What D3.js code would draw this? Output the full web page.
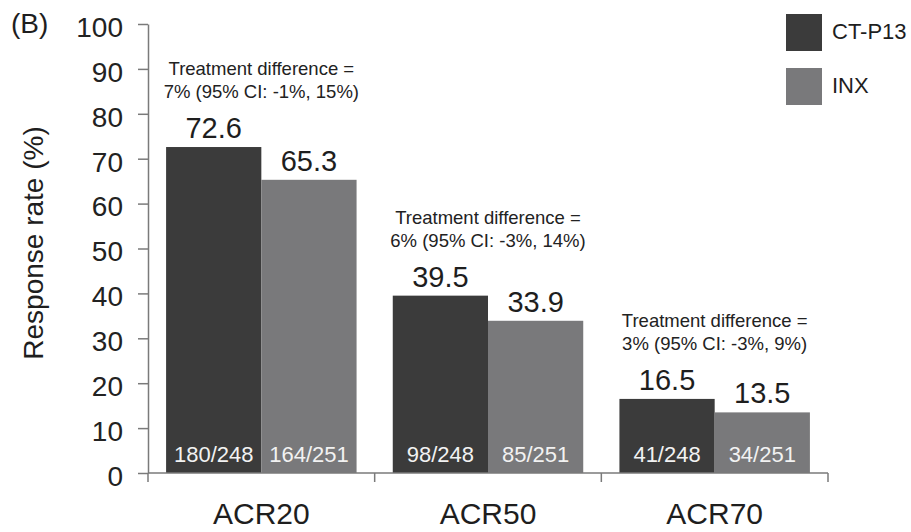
<!DOCTYPE html>
<html>
<head>
<meta charset="utf-8">
<script src="https://cdn.jsdelivr.net/npm/d3@7"></script>
<style>
    body { margin: 0; background: #fff; }
    svg { display: block; font-family: "Liberation Sans", Arial, Helvetica, sans-serif; }
    .y-axis path, .y-axis line { stroke: #7a7a7a; stroke-width: 1.5; }
    .y-axis text { fill: #222; font-size: 28px; }
</style>
</head>
<body>
<div id="chart"></div>
<script>
const categories = ['ACR20', 'ACR50', 'ACR70'];
const series = ['CT-P13', 'INX'];
const ctp13Values = [72.6, 39.5, 16.5];
const inxValues = [65.3, 33.9, 13.5];
const ctp13Counts = ['180/248', '98/248', '41/248'];
const inxCounts = ['164/251', '85/251', '34/251'];
const diffLine1 = ['Treatment difference =', 'Treatment difference =', 'Treatment difference ='];
const diffLine2 = ['7% (95% CI: -1%, 15%)', '6% (95% CI: -3%, 14%)', '3% (95% CI: -3%, 9%)'];
const yTicks = [0, 10, 20, 30, 40, 50, 60, 70, 80, 90, 100];

const colors = { 'CT-P13': '#3b3b3b', 'INX': '#79797b' };
const width = 911, height = 532;
const plot = { left: 148, right: 828, top: 24, bottom: 473 };

const svg = d3.select('#chart').append('svg')
    .attr('width', width)
    .attr('height', height);

const x0 = d3.scaleBand()
    .domain(categories)
    .range([plot.left, plot.right])
    .padding(0);

const x1 = d3.scaleBand()
    .domain(series)
    .range([0, x0.bandwidth()])
    .paddingInner(0)
    .paddingOuter(0.19);

const y = d3.scaleLinear()
    .domain([0, 100])
    .range([plot.bottom, plot.top]);

// rows per category, one entry per bar
const rows = categories.map((c, i) => ({
    cat: c,
    bars: [
        { key: 'CT-P13', value: ctp13Values[i], count: ctp13Counts[i] },
        { key: 'INX', value: inxValues[i], count: inxCounts[i] }
    ],
    note: [diffLine1[i], diffLine2[i]]
}));

// y axis
svg.append('g')
    .attr('class', 'y-axis')
    .attr('transform', `translate(${plot.left},0)`)
    .call(d3.axisLeft(y)
        .tickValues(yTicks)
        .tickSize(10)
        .tickSizeOuter(0)
        .tickPadding(15))
    .selectAll('text')
    .attr('dy', '0.44em');

// bars
const groups = svg.selectAll('.group')
    .data(rows)
    .enter().append('g')
    .attr('class', 'group')
    .attr('transform', d => `translate(${x0(d.cat)},0)`);

groups.selectAll('rect')
    .data(d => d.bars)
    .enter().append('rect')
    .attr('x', d => x1(d.key))
    .attr('y', d => y(d.value))
    .attr('width', x1.bandwidth())
    .attr('height', d => y(0) - y(d.value))
    .attr('fill', d => colors[d.key]);

// value labels above the bars
groups.selectAll('.value-label')
    .data(d => d.bars)
    .enter().append('text')
    .attr('class', 'value-label')
    .attr('x', d => x1(d.key) + x1.bandwidth() / 2)
    .attr('y', d => y(d.value) - 9)
    .attr('text-anchor', 'middle')
    .attr('font-size', 29)
    .attr('fill', '#1e1e1e')
    .text(d => d.value.toFixed(1));

// n/N inside the bars
groups.selectAll('.count-label')
    .data(d => d.bars)
    .enter().append('text')
    .attr('class', 'count-label')
    .attr('x', d => x1(d.key) + x1.bandwidth() / 2)
    .attr('y', y(0) - 11)
    .attr('text-anchor', 'middle')
    .attr('font-size', 22)
    .attr('fill', '#f2f2f2')
    .text(d => d.count);

// treatment difference notes, sit above the tallest bar label
groups.each(function(d) {
    const top = y(d3.max(d.bars, b => b.value)) - 9 - 40;
    const t = d3.select(this).append('text')
        .attr('text-anchor', 'middle')
        .attr('font-size', 18.5)
        .attr('fill', '#222');
    t.append('tspan')
        .attr('x', x0.bandwidth() / 2)
        .attr('y', top - 23)
        .text(d.note[0]);
    t.append('tspan')
        .attr('x', x0.bandwidth() / 2)
        .attr('y', top)
        .text(d.note[1]);
});

// x axis: baseline plus ticks at band edges
const xAxis = svg.append('g').attr('class', 'x-axis');
xAxis.append('line')
    .attr('x1', plot.left)
    .attr('x2', plot.right)
    .attr('y1', y(0))
    .attr('y2', y(0))
    .attr('stroke', '#7a7a7a')
    .attr('stroke-width', 1.5);

const edges = categories.map(c => x0(c)).concat([plot.right]);
xAxis.selectAll('.edge')
    .data(edges)
    .enter().append('line')
    .attr('class', 'edge')
    .attr('x1', d => d)
    .attr('x2', d => d)
    .attr('y1', y(0))
    .attr('y2', y(0) + 9)
    .attr('stroke', '#7a7a7a')
    .attr('stroke-width', 1.5);

xAxis.selectAll('.cat-label')
    .data(categories)
    .enter().append('text')
    .attr('class', 'cat-label')
    .attr('x', d => x0(d) + x0.bandwidth() / 2)
    .attr('y', 524)
    .attr('text-anchor', 'middle')
    .attr('font-size', 30)
    .attr('fill', '#1e1e1e')
    .text(d => d);

// y label
svg.append('text')
    .attr('transform', 'rotate(-90)')
    .attr('x', -243)
    .attr('y', 43)
    .attr('text-anchor', 'middle')
    .attr('font-size', 28)
    .attr('fill', '#1e1e1e')
    .text('Response rate (%)');

// panel letter
svg.append('text')
    .attr('x', 11)
    .attr('y', 33)
    .attr('font-size', 28)
    .attr('fill', '#1e1e1e')
    .text('(B)');

// legend
const legend = svg.append('g')
    .attr('transform', 'translate(786,14)');

const items = legend.selectAll('.legend-item')
    .data(series)
    .enter().append('g')
    .attr('class', 'legend-item')
    .attr('transform', (d, i) => `translate(0,${i * 54})`);

items.append('rect')
    .attr('width', 36)
    .attr('height', 37)
    .attr('fill', d => colors[d]);

items.append('text')
    .attr('x', 46)
    .attr('y', 25)
    .attr('font-size', 22)
    .attr('fill', '#1e1e1e')
    .text(d => d);
</script>
</body>
</html>
